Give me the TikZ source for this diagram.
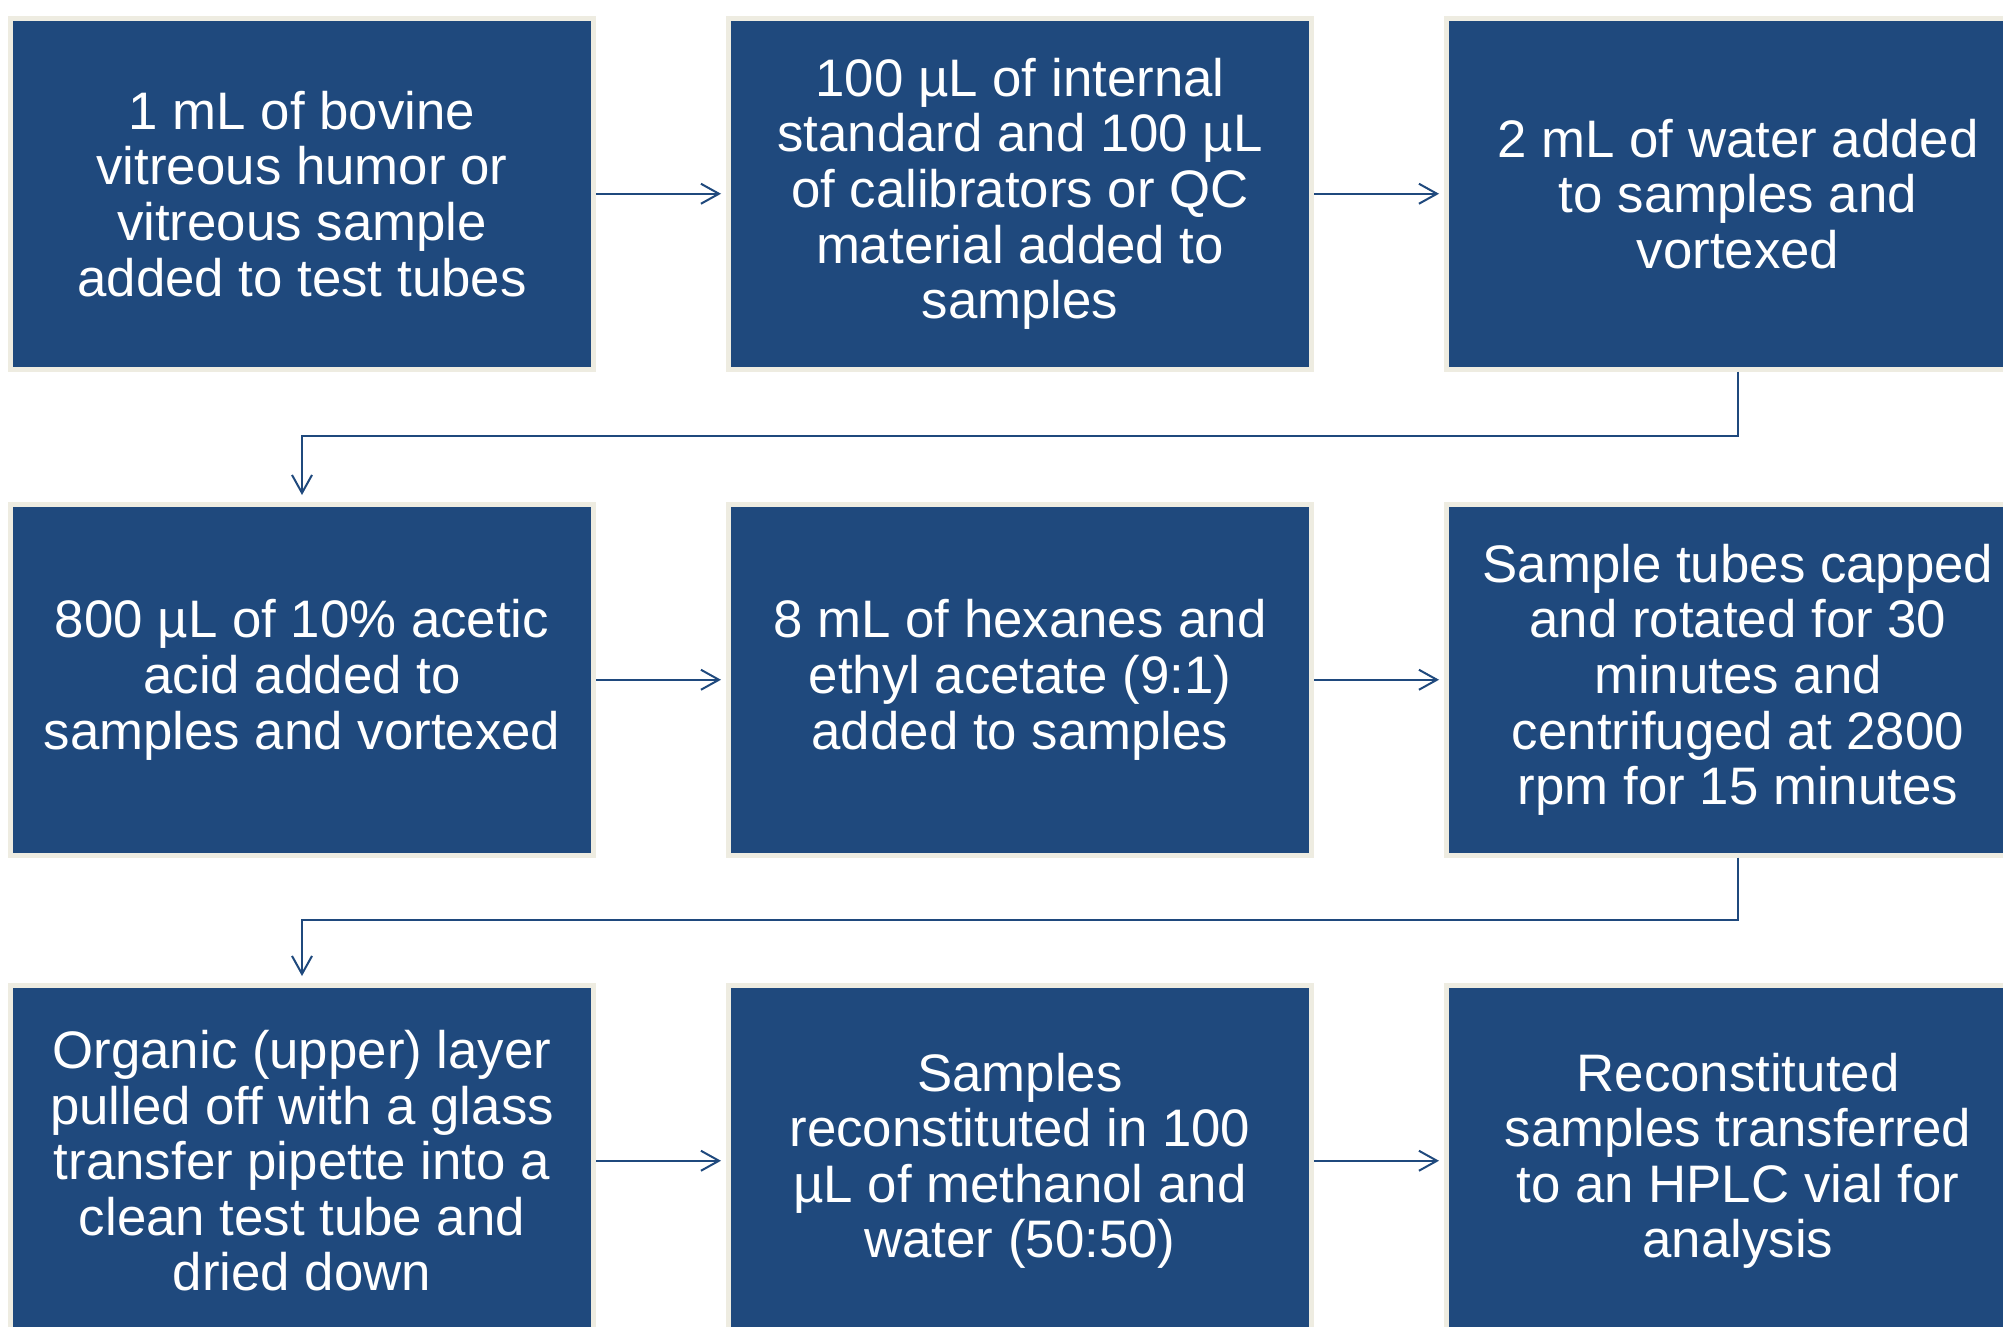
\documentclass[tikz,border=0pt]{standalone}
\usepackage{fontspec}
\setmainfont{Liberation Sans}
\usetikzlibrary{arrows.meta}
\definecolor{boxblue}{RGB}{31,73,125}
\definecolor{boxrim}{RGB}{238,236,225}
\definecolor{linkblue}{RGB}{31,73,125}
\tikzset{
  stepbox/.style={rectangle, inner sep=0pt, fill=boxblue, draw=boxrim, line width=2.5pt,
    minimum width=291.5pt, minimum height=175.25pt, text=white, align=center,
    font=\fontsize{26.4pt}{27.8pt}\selectfont},
  link/.style={draw=linkblue, line width=1pt,
    -{Straight Barb[length=9pt,width=10pt,line width=1pt]}},
}
\begin{document}
\begin{tikzpicture}[x=0.5pt,y=-0.5pt]
\useasboundingbox (0,0) rectangle (2003,1327);
\clip (0,0) rectangle (2003,1327);
\node[stepbox] (b1) at (302,193.75) {1 mL of bovine\\vitreous humor or\\vitreous sample\\added to test tubes};
\node[stepbox] (b2) at (1020,193.75) {100 µL of internal\\standard and 100 µL\\of calibrators or QC\\material added to\\samples};
\node[stepbox] (b3) at (1738,193.75) {2 mL of water added\\to samples and\\vortexed};
\node[stepbox] (b4) at (302,679.75) {800 µL of 10\% acetic\\acid added to\\samples and vortexed};
\node[stepbox] (b5) at (1020,679.75) {8 mL of hexanes and\\ethyl acetate (9:1)\\added to samples};
\node[stepbox] (b6) at (1738,679.75) {Sample tubes capped\\and rotated for 30\\minutes and\\centrifuged at 2800\\rpm for 15 minutes};
\node[stepbox] (b7) at (302,1160.75) {Organic (upper) layer\\pulled off with a glass\\transfer pipette into a\\clean test tube and\\dried down};
\node[stepbox] (b8) at (1020,1160.75) {\rule{0pt}{10pt}Samples\\reconstituted in 100\\µL of methanol and\\water (50:50)};
\node[stepbox] (b9) at (1738,1160.75) {\rule{0pt}{10pt}Reconstituted\\samples transferred\\to an HPLC vial for\\analysis};
\draw[link, shorten >=2.5pt] (b1.east) -- (b2.west);
\draw[link, shorten >=2.5pt] (b2.east) -- (b3.west);
\draw[link, shorten >=2.5pt] (b4.east) -- (b5.west);
\draw[link, shorten >=2.5pt] (b5.east) -- (b6.west);
\draw[link, shorten >=2.5pt] (b7.east) -- (b8.west);
\draw[link, shorten >=2.5pt] (b8.east) -- (b9.west);
\draw[link, shorten >=3.5pt] (b3.south) |- (302,436) -- (b4.north);
\draw[link, shorten >=3.5pt] (b6.south) |- (302,920) -- (b7.north);
\end{tikzpicture}
\end{document}
